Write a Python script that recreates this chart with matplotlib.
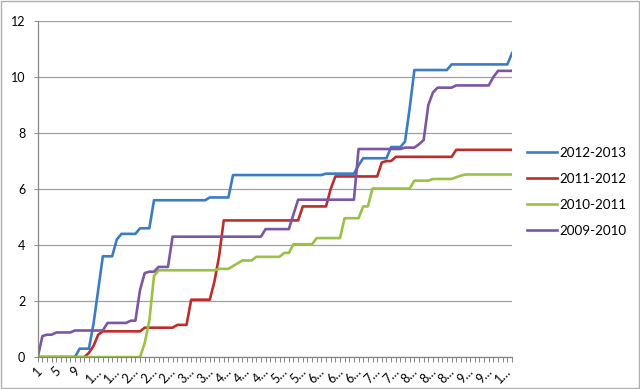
import numpy as np
import matplotlib
matplotlib.use("Agg")
from matplotlib import pyplot as plt
from matplotlib.patches import Rectangle

plt.rcParams['font.family'] = ['Lato', 'DejaVu Sans']

# categories are 1..103 (only every 4th is labelled, truncated as in the original)
categories = np.arange(1, 104)
tick_labels = ["1", "5", "9", "1…", "1…", "2…", "2…", "2…", "3…", "3…", "4…", "4…", "4…",
               "5…", "5…", "6…", "6…", "6…", "7…", "7…", "8…", "8…", "8…", "9…", "9…", "1…"]

s_2012_2013 = [0, 0, 0, 0, 0, 0, 0, 0, 0, 0.3, 0.3, 0.3, 1.2, 2.4, 3.6, 3.6, 3.6, 4.2, 4.4, 4.4,
               4.4, 4.4, 4.6, 4.6, 4.6, 5.6, 5.6, 5.6, 5.6, 5.6, 5.6, 5.6, 5.6, 5.6, 5.6, 5.6,
               5.6, 5.7, 5.7, 5.7, 5.7, 5.7, 6.5, 6.5, 6.5, 6.5, 6.5, 6.5, 6.5, 6.5, 6.5, 6.5,
               6.5, 6.5, 6.5, 6.5, 6.5, 6.5, 6.5, 6.5, 6.5, 6.5, 6.55, 6.55, 6.55, 6.55, 6.55,
               6.55, 6.55, 6.85, 7.1, 7.1, 7.1, 7.1, 7.1, 7.1, 7.5, 7.5, 7.5, 7.7, 8.9, 10.25,
               10.25, 10.25, 10.25, 10.25, 10.25, 10.25, 10.25, 10.45, 10.45, 10.45, 10.45,
               10.45, 10.45, 10.45, 10.45, 10.45, 10.45, 10.45, 10.45, 10.45, 10.85]

s_2011_2012 = [0, 0, 0, 0, 0, 0, 0, 0, 0, 0, 0, 0.15, 0.4, 0.8, 0.92, 0.92, 0.92, 0.92, 0.92,
               0.92, 0.92, 0.92, 0.92, 1.05, 1.05, 1.05, 1.05, 1.05, 1.05, 1.05, 1.15, 1.15,
               1.15, 2.05, 2.05, 2.05, 2.05, 2.05, 2.7, 3.6, 4.88, 4.88, 4.88, 4.88, 4.88, 4.88,
               4.88, 4.88, 4.88, 4.88, 4.88, 4.88, 4.88, 4.88, 4.88, 4.88, 4.88, 5.38, 5.38,
               5.38, 5.38, 5.38, 5.38, 6.0, 6.45, 6.45, 6.45, 6.45, 6.45, 6.45, 6.45, 6.45, 6.45,
               6.45, 6.95, 7.0, 7.0, 7.15, 7.15, 7.15, 7.15, 7.15, 7.15, 7.15, 7.15, 7.15, 7.15,
               7.15, 7.15, 7.15, 7.4, 7.4, 7.4, 7.4, 7.4, 7.4, 7.4, 7.4, 7.4, 7.4, 7.4, 7.4, 7.4]

s_2010_2011 = [0, 0, 0, 0, 0, 0, 0, 0, 0, 0, 0, 0, 0, 0, 0, 0, 0, 0, 0, 0, 0, 0, 0, 0.5, 1.3,
               2.9, 3.1, 3.1, 3.1, 3.1, 3.1, 3.1, 3.1, 3.1, 3.1, 3.1, 3.1, 3.1, 3.1, 3.15, 3.15,
               3.15, 3.25, 3.35, 3.45, 3.45, 3.45, 3.58, 3.58, 3.58, 3.58, 3.58, 3.58, 3.72, 3.72,
               4.03, 4.03, 4.03, 4.03, 4.03, 4.25, 4.25, 4.25, 4.25, 4.25, 4.25, 4.96, 4.96, 4.96,
               4.96, 5.38, 5.38, 6.02, 6.02, 6.02, 6.02, 6.02, 6.02, 6.02, 6.02, 6.02, 6.3, 6.3,
               6.3, 6.3, 6.36, 6.36, 6.36, 6.36, 6.36, 6.42, 6.48, 6.52, 6.52, 6.52, 6.52, 6.52,
               6.52, 6.52, 6.52, 6.52, 6.52, 6.52]

s_2009_2010 = [0, 0.75, 0.8, 0.8, 0.88, 0.88, 0.88, 0.88, 0.95, 0.95, 0.95, 0.95, 0.95, 0.95,
               0.95, 1.22, 1.22, 1.22, 1.22, 1.22, 1.3, 1.3, 2.4, 3.0, 3.05, 3.05, 3.22, 3.22,
               3.22, 4.3, 4.3, 4.3, 4.3, 4.3, 4.3, 4.3, 4.3, 4.3, 4.3, 4.3, 4.3, 4.3, 4.3, 4.3,
               4.3, 4.3, 4.3, 4.3, 4.3, 4.57, 4.57, 4.57, 4.57, 4.57, 4.57, 5.1, 5.62, 5.62, 5.62,
               5.62, 5.62, 5.62, 5.62, 5.62, 5.62, 5.62, 5.62, 5.62, 5.62, 7.43, 7.43, 7.43, 7.43,
               7.43, 7.43, 7.43, 7.43, 7.43, 7.43, 7.48, 7.48, 7.48, 7.6, 7.75, 9.0, 9.45, 9.62,
               9.62, 9.62, 9.62, 9.7, 9.7, 9.7, 9.7, 9.7, 9.7, 9.7, 9.7, 10.0, 10.22, 10.22, 10.22,
               10.22]

series_names = ["2012-2013", "2011-2012", "2010-2011", "2009-2010"]
series_values = [s_2012_2013, s_2011_2012, s_2010_2011, s_2009_2010]
colors = ["#3a7cc6", "#be2d2a", "#9bc144", "#7b56a4"]

fig = plt.figure(figsize=(6.4, 3.89), dpi=100)
ax = fig.add_axes([0.059, 0.082, 0.741, 0.864])

x = np.arange(len(categories))
for name, vals, c in zip(series_names, series_values, colors):
    ax.plot(x, vals, color=c, lw=1.9, label=name, solid_joinstyle='round')

ax.set_xlim(0, len(categories) - 1)
ax.set_ylim(0, 12)
ax.set_yticks(np.arange(0, 13, 2))
ax.yaxis.grid(True, color='#a0a0a0', lw=0.9)
ax.set_axisbelow(True)

# a tick at every category, label on every 4th
ax.set_xticks(x)
labels = [''] * len(x)
for k, lab in enumerate(tick_labels):
    labels[k * 4] = lab
ax.set_xticklabels(labels, rotation=45, ha='center', fontsize=9)
ax.tick_params(axis='x', length=3.5, width=0.7, color='#868686', pad=2)
ax.tick_params(axis='y', length=3, width=0.7, color='#868686', labelsize=9, pad=6)

for side in ['top', 'right']:
    ax.spines[side].set_visible(False)
for side in ['left', 'bottom']:
    ax.spines[side].set_color('#868686')
    ax.spines[side].set_linewidth(0.9)

fig.legend(loc='center left', bbox_to_anchor=(0.805, 0.506), frameon=False,
           fontsize=9.6, handlelength=2.2, handletextpad=0.2, labelspacing=1.05)

fig.patches.append(Rectangle((0.001, 0.002), 0.997, 0.996, transform=fig.transFigure,
                             fill=False, edgecolor='#b0b0b0', lw=1))

fig.savefig('out.png', dpi=100)
